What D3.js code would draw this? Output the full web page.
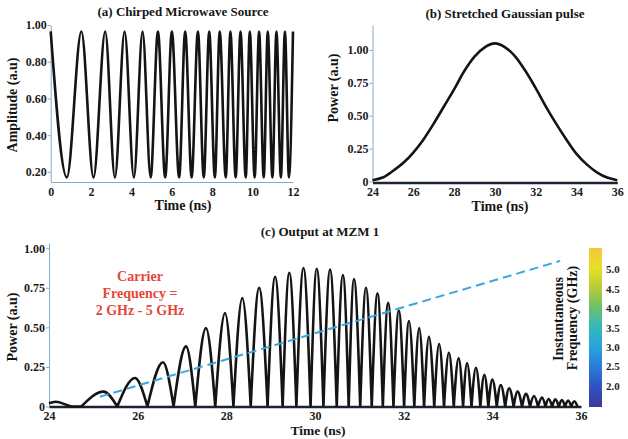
<!DOCTYPE html>
<html>
<head>
<meta charset="utf-8">
<script src="https://cdn.jsdelivr.net/npm/d3@7"></script>
<style>
  body { margin: 0; background: #fff; }
  svg text { font-family: "Liberation Serif", "Times New Roman", serif; font-weight: bold; fill: #1c1c1c; }
</style>
</head>
<body>
<svg id="fig" width="628" height="439"></svg>
<script>
// (a) chirped source: times of the maxima and minima
var srcPeakT = [0, 1.52, 2.70, 3.66, 4.55, 5.31, 6.00, 6.66, 7.29, 7.85, 8.37, 8.90, 9.40, 9.86, 10.32, 10.75, 11.18, 11.60, 12.0];
var srcTroughT = [0.80, 2.12, 3.18, 4.12, 4.95, 5.67, 6.36, 6.98, 7.58, 8.13, 8.67, 9.16, 9.66, 10.10, 10.55, 10.98, 11.40, 11.80];
var srcLevels = [0.965, 0.17]; // max, min amplitude
var srcXTicks = [0, 2, 4, 6, 8, 10, 12];
var srcYTicks = [0.2, 0.4, 0.6, 0.8, 1.0];

// (b) stretched gaussian pulse
var pulseT = [24, 24.5, 25, 25.5, 26, 26.5, 27, 27.5, 28, 28.5, 29, 29.5, 30, 30.5, 31, 31.5, 32, 32.5, 33, 33.5, 34, 34.5, 35, 35.5, 36];
var pulseP = [0.01, 0.03, 0.08, 0.14, 0.22, 0.32, 0.44, 0.57, 0.70, 0.84, 0.95, 1.02, 1.05, 1.02, 0.95, 0.84, 0.71, 0.57, 0.44, 0.32, 0.21, 0.13, 0.07, 0.03, 0.01];
var timeTicks = [24, 26, 28, 30, 32, 34, 36];
var pulseYTicks = [0, 0.25, 0.5, 0.75, 1.0];

// (c) output at MZM 1: lobe peaks and the zeros between them
var outLeadT = [24, 24.15, 24.55, 24.73];
var outLeadP = [0.02, 0.03, 0, 0];
var outPeakT = [25.23, 25.94, 26.57, 27.09, 27.54, 27.97, 28.36, 28.74, 29.10, 29.42, 29.74, 30.04, 30.34, 30.63, 30.88, 31.15, 31.41, 31.65, 31.89, 32.12,
                32.35, 32.57, 32.80, 33.02, 33.24, 33.43, 33.63, 33.82, 34.00, 34.19, 34.38, 34.57, 34.76, 34.94, 35.12, 35.27, 35.42, 35.57, 35.71, 35.85];
var outPeakP = [0.094, 0.18, 0.28, 0.38, 0.495, 0.59, 0.685, 0.75, 0.82, 0.845, 0.875, 0.87, 0.865, 0.83, 0.805, 0.75, 0.715, 0.655, 0.605, 0.54,
                0.495, 0.44, 0.395, 0.34, 0.305, 0.275, 0.245, 0.20, 0.17, 0.136, 0.115, 0.094, 0.08, 0.066, 0.056, 0.047, 0.045, 0.04, 0.037, 0.033];
var outZeroT = [24.73, 25.54, 26.22, 26.81, 27.30, 27.75, 28.16, 28.55, 28.93, 29.27, 29.58, 29.90, 30.19, 30.49, 30.76, 31.02, 31.28, 31.53, 31.77, 32.01,
                32.24, 32.46, 32.69, 32.91, 33.13, 33.34, 33.53, 33.73, 33.91, 34.10, 34.29, 34.48, 34.67, 34.85, 35.03, 35.20, 35.35, 35.50, 35.64, 35.78, 35.92];
var freqLineT = [25.15, 35.53];
var freqLineP = [0.062, 0.92];

// colour bar
var cbarDomain = [1.45, 5.55];
var cbarTicks = [2.0, 2.5, 3.0, 3.5, 4.0, 4.5, 5.0];
var cbarColors = ['#3b3a98', '#3052c0', '#2c7ad8', '#27a2de', '#33b8bc', '#6cc070', '#b6cc36', '#e6e024', '#f6c63e'];

var svg = d3.select('#fig');
var axisBlue = '#86aac4';
var ink = '#141414';

function yAxis(scale, x, ticks, fmt) {
  var g = svg.append('g')
    .attr('transform', 'translate(' + x + ',0)')
    .call(d3.axisLeft(scale).tickValues(ticks).tickFormat(fmt).tickSize(3).tickSizeOuter(0).tickPadding(1));
  g.selectAll('path, line').attr('stroke', axisBlue);
  g.selectAll('text').attr('font-size', 12).attr('fill', ink);
  return g;
}

function xAxis(scale, y, ticks, heavy) {
  var g = svg.append('g')
    .attr('transform', 'translate(0,' + y + ')')
    .call(d3.axisBottom(scale).tickValues(ticks).tickFormat(d3.format('d')).tickSize(0).tickPadding(5));
  g.select('path.domain')
    .attr('stroke', heavy ? '#1b2430' : axisBlue)
    .attr('stroke-width', heavy ? 2.6 : 1);
  g.selectAll('text').attr('font-size', 12).attr('fill', ink);
  return g;
}

function label(text, x, y, size, rotate, color) {
  svg.append('text')
    .attr('transform', 'translate(' + x + ',' + y + ')' + (rotate ? ' rotate(-90)' : ''))
    .attr('text-anchor', 'middle')
    .attr('dominant-baseline', 'middle')
    .attr('font-size', size)
    .style('fill', color || ink)
    .text(text);
}

// ---------- panel (a)
var xa = d3.scaleLinear().domain([0, 12]).range([50.7, 293]);
var ya = d3.scaleLinear().domain([0.145, 1.0]).range([182, 25]);

var srcPts = [];
srcPeakT.forEach(function(t, i) {
  srcPts.push([t, srcLevels[0]]);
  if (i < srcTroughT.length) srcPts.push([srcTroughT[i], srcLevels[1]]);
});

xAxis(xa, 182, srcXTicks, false);
yAxis(ya, 50.7, srcYTicks, d3.format('.2f'));

svg.append('path')
  .attr('d', d3.line().x(function(d) { return xa(d[0]); }).y(function(d) { return ya(d[1]); }).curve(d3.curveMonotoneX)(srcPts))
  .attr('fill', 'none')
  .attr('stroke', ink)
  .attr('stroke-width', 2.6);

label('(a) Chirped Microwave Source', 183, 13, 13);
label('Amplitude (a.u)', 14, 105, 14, true);
label('Time (ns)', 183, 207, 14);

// ---------- panel (b)
var xb = d3.scaleLinear().domain([24, 36]).range([372.5, 617.3]);
var yb = d3.scaleLinear().domain([0, 1.19]).range([181.5, 25]);

yAxis(yb, 372.5, pulseYTicks, function(d) { return d === 0 ? '0' : d3.format('.2f')(d); });
xAxis(xb, 182.5, timeTicks, true);

svg.append('path')
  .attr('d', d3.line()
    .x(function(d, i) { return xb(pulseT[i]); })
    .y(function(d) { return yb(d); })
    .curve(d3.curveMonotoneX)(pulseP))
  .attr('fill', 'none')
  .attr('stroke', ink)
  .attr('stroke-width', 2.6);

label('(b) Stretched Gaussian pulse', 505, 15, 13);
label('Power (a.u)', 335, 88, 14, true);
label('Time (ns)', 500, 208, 14);

// ---------- panel (c)
var xc = d3.scaleLinear().domain([24, 36]).range([49, 581]);
var yc = d3.scaleLinear().domain([0, 1.033]).range([406.5, 243]);

yAxis(yc, 49, pulseYTicks, function(d) { return d === 0 ? '0' : d3.format('.2f')(d); });
xAxis(xc, 406.5, timeTicks, true);

var lineC = d3.line()
  .x(function(d) { return xc(d[0]); })
  .y(function(d) { return yc(d[1]); })
  .curve(d3.curveMonotoneX);

// each lobe is its own arc so the zeros stay sharp
var dC = lineC(outLeadT.map(function(t, i) { return [t, outLeadP[i]]; }));
outPeakT.forEach(function(t, i) {
  dC += lineC([[outZeroT[i], 0], [t, outPeakP[i]], [outZeroT[i + 1], 0]]);
});

svg.append('path')
  .attr('d', dC)
  .attr('fill', 'none')
  .attr('stroke', ink)
  .attr('stroke-width', 2.6)
  .attr('stroke-linejoin', 'round');

svg.append('path')
  .attr('d', lineC.curve(d3.curveLinear)(freqLineT.map(function(t, i) { return [t, freqLineP[i]]; })))
  .attr('fill', 'none')
  .attr('stroke', '#3aa6e0')
  .attr('stroke-width', 2)
  .attr('stroke-dasharray', '9,5');

label('(c) Output at MZM 1', 320, 233, 13);
label('Power (a.u)', 14, 327, 14, true);
label('Time (ns)', 318, 431.5, 13.5);

['Carrier', 'Frequency =', '2 GHz - 5 GHz'].forEach(function(s, i) {
  label(s, 140, 278 + i * 17, 14, false, '#e5463a');
});

// ---------- colour bar
var cb = d3.scaleLinear().domain(cbarDomain).range([407, 248]);
var grad = svg.append('defs').append('linearGradient')
  .attr('id', 'cbar')
  .attr('x1', 0).attr('y1', 1).attr('x2', 0).attr('y2', 0);
grad.selectAll('stop')
  .data(cbarColors)
  .enter().append('stop')
  .attr('offset', function(d, i) { return i / (cbarColors.length - 1); })
  .attr('stop-color', function(d) { return d; });

svg.append('rect')
  .attr('x', 589).attr('y', cb(cbarDomain[1]))
  .attr('width', 13).attr('height', cb(cbarDomain[0]) - cb(cbarDomain[1]))
  .attr('fill', 'url(#cbar)');

var cbAxis = svg.append('g')
  .attr('transform', 'translate(602,0)')
  .call(d3.axisRight(cb).tickValues(cbarTicks).tickFormat(d3.format('.1f')).tickSize(0).tickPadding(4));
cbAxis.select('path.domain').remove();
cbAxis.selectAll('text').attr('font-size', 11).attr('fill', ink);

label('Instantaneous', 560, 319, 14, true);
label('Frequency (GHz)', 574, 318, 14, true);
</script>
</body>
</html>
